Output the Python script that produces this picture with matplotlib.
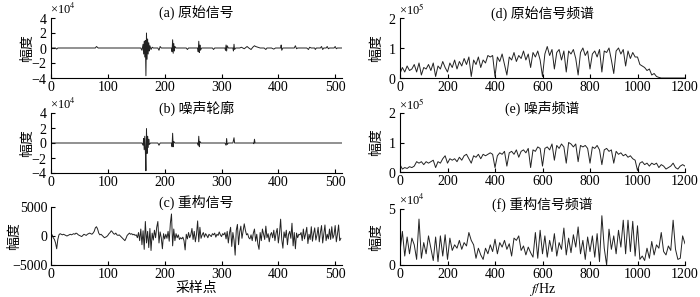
import numpy as np
import matplotlib.pyplot as plt

plt.rcParams['font.family'] = ['Liberation Serif', 'Noto Sans CJK SC']
plt.rcParams['mathtext.fontset'] = 'stix'
plt.rcParams['font.size'] = 10

# (a) original signal: sample index / amplitude
a_n = [0, 8, 10, 12, 78, 80, 83, 158, 160, 162, 163, 164, 165, 166, 167, 168, 169, 170, 171, 172, 173, 174,
       176, 178, 180, 188, 190, 192, 194, 212, 213, 214, 215, 216, 217, 218, 220, 238, 240, 242, 258, 259,
       260, 261, 262, 263, 265, 284, 286, 288, 306, 307, 308, 309, 310, 312, 320, 321, 322, 323, 325, 332,
       335, 340, 345, 348, 352, 355, 358, 360, 364, 368, 375, 378, 380, 388, 392, 395, 404, 405, 406, 408,
       428, 430, 432, 434, 450, 453, 455, 458, 464, 465, 467, 474, 476, 478, 480, 484, 486, 488, 490, 498,
       500, 502, 504, 512]
a_amp = [0, 0, -0.15e4, 0, 0, 0.2e4, 0, 0, -0.3e4, 0.5e4, -0.8e4, 0.9e4, -1.2e4, 1.0e4, -3.7e4, 2.0e4,
         -1.5e4, 1.2e4, -0.8e4, 0.7e4, -0.4e4, 0.3e4, -0.2e4, 0.1e4, 0, 0, -0.3e4, 0.2e4, 0, 0, -0.5e4,
         1.1e4, -0.7e4, 0.6e4, -0.4e4, 0.2e4, 0, 0, -0.2e4, 0, 0, -0.5e4, 0.9e4, -0.6e4, 0.4e4, -0.3e4, 0,
         0, -0.2e4, 0, 0, -0.3e4, 0.4e4, -0.4e4, 0.3e4, 0, 0, -0.4e4, 0.5e4, -0.2e4, 0, 0, 0.1e4, -0.1e4,
         0.2e4, 0, -0.2e4, 0.1e4, 0.3e4, 0.2e4, 0.1e4, 0, 0, -0.2e4, 0, 0, -0.15e4, 0, 0, 0.4e4, -0.3e4, 0,
         0, 0.3e4, -0.1e4, 0, 0, -0.2e4, 0.1e4, 0, 0, -0.2e4, 0, 0, 0.2e4, -0.2e4, 0, 0, 0.2e4, -0.1e4, 0,
         0, 0.2e4, -0.1e4, 0, 0]

# (b) noise profile
b_n = [0, 160, 162, 163, 164, 165, 166, 167, 168, 169, 170, 171, 172, 173, 175, 188, 190, 192, 212, 213,
       214, 215, 216, 218, 258, 259, 260, 261, 262, 264, 306, 308, 309, 310, 312, 320, 322, 323, 356, 357,
       358, 359, 512]
b_amp = [0, 0, -0.3e4, 0.6e4, -0.9e4, 0.9e4, -1.0e4, -3.7e4, 1.9e4, -1.4e4, 0.9e4, -0.6e4, 0.5e4,
         -0.2e4, 0, 0, -0.3e4, 0, 0, -0.5e4, 1.3e4, -0.5e4, 0.2e4, 0, 0, -0.3e4, 0.9e4, -0.5e4, 0.2e4, 0,
         0, -0.3e4, 0.6e4, -0.2e4, 0, 0, 0.7e4, 0, 0, -0.1e4, 0.5e4, 0, 0]

# (c) reconstructed signal, every 2nd sample from 0 to 510
c_n = np.arange(0, 512, 2)
c_amp = [300, 200, -300, -600, -1200, -2200, -600, 200, 400, 300,
         200, 300, 200, 100, 0, 100, 200, 300, 200, 300,
         400, 300, 500, 400, 200, 100, 0, -100, 100, 300,
         200, 100, 300, 400, 500, 400, 300, 500, 800, 1400,
         1600, 1200, 500, 200, 300, 100, -100, -300, -200, -100,
         100, 400, 600, 900, 700, 400, 300, 500, 200, 100,
         200, 0, -200, -400, -600, -800, -400, 100, 300, 500,
         300, 400, 200, 300, 100,
         200, -300, 600, -800, 1200, -1500, 900, -2300, 2500, -1200,
         800, -2000, 1300, -2500, 500, -700, 1000, -300, 1500, 2500,
         -1200, 700, -300, -2200, 400, -500, 300, -400, 800, -900,
         2200, 3800, -1700, 1200, -800, 400, -300, 200, -600, -300,
         -500, -200, -800, -2400, 300, -500, 600, -300, 200, 1300,
         -600, 800, -1000, 300, 2600, -1000, 1500, -400, 200, 600,
         -200, 400, 100, -300, 300, 100, -100, 400, 200, 500,
         -200, 300, 100, 700, 200, -100, 400, 200, 600, -500,
         800, -1200, 500, 1500, -1800, 600, -700, -3300, 1000, 2000,
         -1500, 700, 1700, -400, 800, 2100, 1000, 200, 400, -300,
         -500, 200, -800, 500, 1200, -900, 300, -1400, -2300, 600,
         -800, 1200, 300, -600, 1700, -300, 400, -1000, 200, 600,
         -300, 1000, -800, 500, 1300, -1200, 400, 2900, -600, -2100,
         700, -300, 1000, -1500, 300, 800, -400, 2200, -1700, 600,
         -2200, 500, -300, 300, 200, 600, -800, 1200, -500, 400,
         1500, -1300, 300, -600, 1600, -900, 400, 1400, -700, 200,
         1500, -1000, 600, 1800, -1200, 400, 1900, -800, 300, -500,
         1200, -600, 1600, -400, 200, 1800, -1000, 300, 1900, -800, -400]

# spectra, 0-1200 Hz every 10 Hz
freq = np.arange(0, 1201, 10)
d_amp = np.array([
    0.15, 0.35, 0.2, 0.4, 0.25, 0.3, 0.45, 0.2, 0.5, 0.1,
    0.35, 0.3, 0.45, 0.25, 0.5, 0.05, 0.4, 0.3, 0.55, 0.35,
    0.2, 0.5, 0.35, 0.6, 0.3, 0.55, 0.4, 0.65, 0.45, 0.7,
    0.05, 0.6, 0.45, 0.7, 0.35, 0.6, 0.5, 0.75, 0.7, 0.75,
    0.05, 0.7, 0.55, 0.8, 0.45, 0.1, 0.7, 0.6, 0.85, 0.55,
    0.75, 0.65, 0.9, 0.6, 0.8, 0.35, 0.85, 0.7, 0.9, 0.6,
    0.05, 0.8, 1.05, 0.75, 0.95, 0.3, 0.85, 0.95, 0.6, 0.9,
    0.2, 0.9, 0.8, 0.95, 0.65, 0.1, 0.85, 1.0, 0.75, 0.9,
    0.3, 0.8, 0.9, 0.7, 0.95, 0.2, 0.9, 0.85, 1.0, 0.6,
    0.15, 0.9, 1.0, 0.8, 0.95, 0.4, 0.9, 0.65, 0.85, 0.7,
    0.7, 0.45, 0.4, 0.35, 0.25, 0.3, 0.1, 0.15, 0.05, 0.02,
    0, 0, 0, 0, 0, 0, 0, 0, 0, 0, 0]) * 1e5
e_amp = np.array([
    0.25, 0.1, 0.15, 0.12, 0.18, 0.15, 0.2, 0.35, 0.3, 0.35,
    0.25, 0.35, 0.3, 0.35, 0.4, 0.15, 0.35, 0.3, 0.45, 0.55,
    0.3, 0.45, 0.4, 0.45, 0.35, 0.5, 0.4, 0.55, 0.6, 0.45,
    0.3, 0.55, 0.5, 0.6, 0.45, 0.6, 0.55, 0.6, 0.65, 0.6,
    0.15, 0.55, 0.65, 0.6, 0.7, 0.2, 0.65, 0.7, 0.6, 0.75,
    0.5, 0.7, 0.75, 0.65, 0.8, 0.15, 0.75, 0.7, 0.85, 0.8,
    0.2, 0.8, 0.85, 0.75, 0.95, 0.4, 0.9, 0.8, 0.95, 0.85,
    0.3, 1.0, 0.95, 0.85, 0.95, 0.35, 0.9, 0.85, 0.9, 0.8,
    0.3, 0.85, 0.8, 0.9, 0.75, 0.25, 0.75, 0.8, 0.7, 0.75,
    0.3, 0.7, 0.6, 0.65, 0.55, 0.6, 0.5, 0.55, 0.45, 0.4,
    0.05, 0.3, 0.35, 0.25, 0.3, 0.2, 0.3, 0.25, 0.3, 0.15,
    0.25, 0.2, 0.1, 0.15, 0.2, 0.3, 0.15, 0.1, 0.2, 0.25, 0.2]) * 1e5
f_amp = np.array([
    1.2, 3.0, 0.8, 2.5, 1.0, 2.4, 1.8, 0.5, 4.1, 0.6,
    2.0, 1.0, 2.6, 1.5, 0.4, 2.5, 0.3, 2.6, 0.8, 2.7,
    0.5, 2.4, 1.3, 1.8, 1.5, 2.2, 1.4, 2.0, 1.7, 2.9,
    2.2, 1.8, 0.6, 1.5, 0.9, 0.5, 1.5, 1.0, 1.8, 1.2,
    2.3, 1.0, 2.0, 1.6, 2.2, 1.4, 1.9, 0.8, 2.4, 2.2,
    2.6, 1.3, 1.7, 0.9, 1.6, 1.1, 0.7, 2.9, 0.6, 3.1,
    1.0, 2.6, 0.7, 2.2, 1.2, 2.8, 0.8, 2.0, 1.4, 3.3,
    0.9, 2.4, 1.1, 2.7, 1.6, 3.4, 1.0, 2.2, 0.5, 2.5,
    1.2, 2.6, 0.7, 2.8, 0.3, 4.4, 1.5, 0.0, 3.2, 1.4,
    2.6, 1.0, 3.1, 1.6, 4.0, 1.0, 4.0, 1.2, 3.9, 0.8,
    3.5, 0.5, 0.8, 0.4, 1.5, 0.6, 2.1, 0.9, 1.8, 1.5,
    2.9, 1.2, 0.9, 1.7, 1.3, 4.0, 1.4, 0.5, 0.6, 2.6, 1.9]) * 1e4

titles = ['(a) 原始信号', '(b) 噪声轮廓', '(c) 重构信号',
          '(d) 原始信号频谱', '(e) 噪声频谱', '(f) 重构信号频谱']
exponents = [4, 4, None, 5, 5, 4]

fig = plt.figure(figsize=(7, 2.97), dpi=100)
W, H = 700, 297
def box(l, r, t, b):
    return [l / W, 1 - b / H, (r - l) / W, (b - t) / H]

axes = [fig.add_axes(box(51, 342, 18, 78)), fig.add_axes(box(51, 342, 113, 173)),
        fig.add_axes(box(51, 342, 207, 265)), fig.add_axes(box(400, 685, 18, 78)),
        fig.add_axes(box(400, 685, 113, 172)), fig.add_axes(box(400, 685, 209, 265))]

series = [(a_n, a_amp), (b_n, b_amp), (c_n, c_amp), (freq, d_amp), (freq, e_amp), (freq, f_amp)]
ylims = [(-4e4, 4e4), (-4e4, 4e4), (-5000, 5000), (0, 2e5), (0, 2e5), (0, 5e4)]
yticks = [np.arange(-4e4, 4.1e4, 2e4), np.arange(-4e4, 4.1e4, 2e4), [-5000, 0, 5000],
          [0, 1e5, 2e5], [0, 1e5, 2e5], [0, 5e4]]
ylab_x = [-0.058, -0.058, -0.103, -0.059, -0.059, -0.059]

for i, ax in enumerate(axes):
    x, y = series[i]
    ax.plot(x, y, color='#222222', linewidth=0.7)
    ax.set_ylim(*ylims[i])
    ax.set_yticks(yticks[i])
    if i < 3:
        ax.set_xlim(0, 512)
        ax.set_xticks(range(0, 501, 100))
    else:
        ax.set_xlim(0, 1200)
        ax.set_xticks(range(0, 1201, 200))
    if exponents[i] is not None:
        ax.ticklabel_format(axis='y', style='sci', scilimits=(0, 0), useMathText=True)
        ax.yaxis.get_offset_text().set_visible(False)
        ax.annotate('×10$^{%d}$' % exponents[i], xy=(0, 1), xycoords='axes fraction',
                    xytext=(-1, 6), textcoords='offset points', ha='left', va='center', fontsize=9)
    ax.spines['top'].set_visible(False)
    ax.spines['right'].set_visible(False)
    ax.tick_params(direction='in', length=3, width=0.8, labelsize=10, pad=2.5)
    ax.set_ylabel('幅度', fontsize=10)
    ax.yaxis.set_label_coords(ylab_x[i], 0.5)
    ax.annotate(titles[i], xy=(0.5, 1), xycoords='axes fraction', xytext=(0, 3),
                textcoords='offset points', ha='center', va='center', fontsize=10)

axes[2].set_xlabel('采样点', fontsize=10, labelpad=0)
axes[5].set_xlabel('$f$/Hz', fontsize=10, labelpad=-0.5)

fig.savefig('out.png', dpi=100)
